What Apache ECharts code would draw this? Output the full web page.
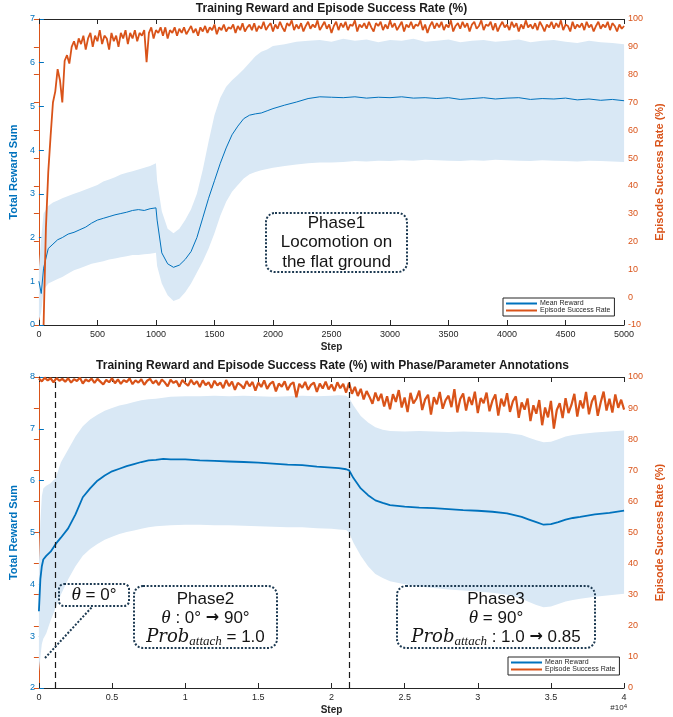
<!DOCTYPE html>
<html><head><meta charset="utf-8">
<script src="https://cdn.jsdelivr.net/npm/echarts@6.0.0/dist/echarts.min.js"></script>
<style>html,body{margin:0;padding:0;background:#fff}#c{width:673px;height:717px}</style>
</head><body><div id="c"></div>
<script>
// ---------- Top chart (Phase 1) ----------
const topSteps = [0,20,40,80,120,160,200,250,300,350,
 400,450,500,550,600,650,700,750,800,850,
 900,950,1000,1010,1050,1100,1150,1200,1250,1300,
 1350,1400,1450,1500,1550,1600,1650,1700,1750,1800,
 1850,1900,1950,2000,2100,2200,2300,2400,2500,2600,
 2700,2800,2900,3000,3100,3200,3300,3400,3500,3600,
 3700,3800,3900,4000,4100,4200,4300,4400,4500,4600,
 4700,4800,4900,5000];
const topMean = [1.0,0.72,1.3,1.75,1.85,1.95,2.0,2.08,2.12,2.18,
 2.24,2.33,2.4,2.44,2.48,2.52,2.55,2.58,2.62,2.64,
 2.62,2.66,2.68,2.4,1.65,1.4,1.32,1.37,1.5,1.68,
 2.0,2.45,2.9,3.3,3.7,4.05,4.35,4.55,4.72,4.8,
 4.83,4.85,4.9,4.95,5.03,5.1,5.18,5.22,5.21,5.2,
 5.22,5.19,5.21,5.2,5.22,5.19,5.2,5.18,5.2,5.16,
 5.18,5.2,5.17,5.19,5.2,5.16,5.18,5.17,5.19,5.15,
 5.17,5.14,5.16,5.13];
const topUpper = [1.3,2.0,2.55,2.72,2.8,2.85,2.9,2.95,3.0,3.05,
 3.1,3.15,3.2,3.28,3.33,3.38,3.44,3.48,3.52,3.56,
 3.6,3.64,3.7,3.3,2.6,2.2,2.1,2.2,2.4,2.65,
 3.0,3.55,4.2,4.8,5.2,5.45,5.6,5.72,5.85,6.0,
 6.15,6.25,6.3,6.38,6.42,6.48,6.5,6.52,6.48,6.55,
 6.5,6.53,6.47,6.52,6.5,6.55,6.48,6.5,6.53,6.47,
 6.5,6.52,6.48,6.5,6.53,6.47,6.5,6.52,6.48,6.45,
 6.5,6.47,6.45,6.42];
const topLower = [0.1,0.3,0.8,0.95,1.0,1.05,1.1,1.18,1.25,1.3,
 1.35,1.4,1.43,1.46,1.5,1.52,1.55,1.57,1.6,1.6,
 1.62,1.63,1.65,1.35,0.95,0.68,0.55,0.6,0.75,0.95,
 1.2,1.45,1.75,2.1,2.5,2.82,3.05,3.2,3.35,3.45,
 3.5,3.54,3.57,3.6,3.64,3.67,3.7,3.72,3.72,3.73,
 3.75,3.74,3.76,3.75,3.77,3.76,3.78,3.77,3.76,3.75,
 3.77,3.76,3.78,3.77,3.76,3.75,3.77,3.76,3.75,3.74,
 3.76,3.75,3.74,3.73];
const topRateStart = 40, topRateStep = 20;
const topRate = [
 -10,25,45,58,70,74,82,78,70,85,
 87,84,90,92,89,93,91,94,89,93,
 95,90,94,92,96,91,94,93,89,95,
 92,94,90,95,93,96,91,95,93,96,
 92,95,94,96,84.5,95,97,93,96,95,
 97,94,97,93,96,95,97,94,96.5,95,
 97,94.5,96,97.5,95,96.5,94,97,95.5,97.5,
 95,97,96,98,94.5,97,96,98,95.5,97,
 96.5,98,95,97.5,96,98.5,95.5,97,98,96,
 98.5,95.5,97.5,96.5,99,96,97.5,98.5,95.5,98,
 96.5,99,97,95.5,98.5,97.5,99.5,96,98,96.5,
 98.5,95.5,97.5,99,96.5,98,97,99.5,96,97.5,
 99,96.5,98,95,97.5,99,96,98.5,97,99,
 96,98,97.5,99.5,95.5,98,97,98.5,96.5,99,
 97,95.5,98.5,97.5,99,96,98,96.5,99.5,97,
 98.5,96,97.5,99,95.5,98,97,99,96.5,98,
 97.5,99.5,96,98,95,97.5,99,96.5,98.5,97,
 99,96,98,97,99.5,95.5,97.5,98.5,96.5,99,
 97,98.5,95.5,98,99,96.5,97.5,99.5,96,98,
 97.5,99,96,98.5,95.5,97.5,99,97,98,96,
 99,97,98.5,95.5,98,96.5,99.5,97,98,96.5,
 98.5,96,99,97.5,95.5,98,97,99,96.5,98.5,
 97,99.5,96,98,97.5,95.5,99,96.5,98,97,
 98.5,96,99,97,98,95.5,97.5,99,96.5,98,
 97,99,96,98.5,97.5,95.5,98,96.5,97.5];

// ---------- Bottom chart (Phase 2 / 3) ----------
const botSteps = [0,100,200,300,500,800,1150,1500,2000,2500,
 3000,3500,4000,4500,5000,5500,6000,6500,7000,7500,
 8000,8500,9000,10000,11000,12000,13000,14000,15000,16000,
 17000,18000,19000,20000,20500,21000,21200,21500,22000,22500,
 23000,23500,24000,25000,26000,27000,28000,29000,30000,31000,
 32000,33000,33500,34000,34500,35000,35500,36000,36500,37000,
 38000,39000,40000];
const botMean = [3.48,4.1,4.35,4.48,4.55,4.63,4.78,4.9,5.08,5.35,
 5.68,5.85,6.0,6.1,6.18,6.23,6.28,6.32,6.36,6.39,
 6.4,6.42,6.41,6.41,6.39,6.38,6.37,6.36,6.35,6.33,
 6.31,6.3,6.27,6.25,6.24,6.22,6.2,6.05,5.85,5.72,
 5.62,5.57,5.53,5.5,5.48,5.47,5.45,5.43,5.42,5.4,
 5.37,5.3,5.25,5.2,5.15,5.16,5.2,5.25,5.28,5.3,
 5.35,5.38,5.42];
const botUpper = [4.4,5.2,5.7,5.85,5.9,5.95,6.05,6.35,6.6,6.85,
 7.05,7.18,7.27,7.35,7.4,7.45,7.48,7.52,7.55,7.57,
 7.58,7.6,7.62,7.63,7.63,7.64,7.63,7.64,7.63,7.62,
 7.63,7.64,7.63,7.64,7.65,7.64,7.6,7.45,7.25,7.12,
 7.03,6.98,6.96,6.95,6.96,6.95,6.94,6.95,6.94,6.93,
 6.92,6.88,6.83,6.78,6.74,6.75,6.8,6.85,6.88,6.9,
 6.93,6.95,6.97];
const botLower = [2.3,2.6,2.85,2.95,3.05,3.3,3.55,3.8,4.1,4.35,
 4.55,4.68,4.78,4.86,4.92,4.97,5.01,5.04,5.07,5.1,
 5.12,5.13,5.14,5.15,5.15,5.14,5.14,5.13,5.12,5.11,
 5.1,5.1,5.08,5.07,5.06,5.05,5.0,4.8,4.55,4.35,
 4.2,4.12,4.06,4.0,3.96,3.93,3.9,3.88,3.86,3.84,
 3.8,3.72,3.66,3.6,3.56,3.57,3.62,3.67,3.7,3.72,
 3.76,3.79,3.82];
const botRateStart = 0, botRateStep = 200;
const botRate = [
 99.5,98.6,99.8,98.9,99.6,98.3,99.7,98.8,99.4,98.5,
 99.6,98.2,99.3,98.7,99.8,97.9,99.2,98.6,99.5,98.1,
 99.4,98.5,97.6,99.1,98.3,99.6,98.0,99.2,97.8,99.0,
 98.4,99.5,97.7,98.9,98.2,99.3,97.5,98.8,99.4,97.9,
 98.9,97.4,99.2,98.3,97.0,99.1,98.1,98.7,96.9,99.0,
 98.0,97.2,99.1,97.6,98.6,96.8,98.9,97.4,98.3,96.5,
 98.8,97.3,98.2,96.4,99.0,97.1,98.5,95.9,98.1,97.4,
 96.3,98.7,97.0,98.4,95.6,98.2,96.8,98.9,96.2,97.8,
 98.5,95.4,97.9,96.9,98.6,95.8,97.6,98.3,93.5,97.8,
 96.5,98.4,95.9,97.5,98.2,95.2,97.9,96.3,98.5,96.0,
 97.6,95.5,98.3,96.4,97.8,95.0,98.1,94.6,96.8,93.9,
 96.2,92.8,95.5,93.6,91.4,95.0,92.3,94.6,90.5,93.8,
 89.6,94.5,92.0,95.8,90.2,93.4,88.7,94.9,91.5,93.0,
 95.6,89.4,92.8,94.3,87.9,93.5,91.2,95.2,89.8,92.6,
 94.0,90.3,96.1,88.6,92.9,94.7,89.2,93.6,91.0,95.3,
 88.4,93.2,91.6,95.0,89.0,92.4,94.4,87.6,93.0,90.6,
 94.8,88.8,92.2,93.8,86.9,91.8,89.5,93.1,85.8,90.9,
 88.2,92.6,84.5,90.2,87.0,92.3,83.4,89.4,91.6,86.8,
 93.2,88.4,91.0,94.6,87.3,92.5,89.9,95.2,88.0,92.1,
 94.1,87.5,91.8,95.3,89.2,93.0,88.6,94.4,90.1,92.7,
 89.5];
const phaseLines = [1150, 21200];

// ---------- styling ----------
const FONT = 'Liberation Sans';
const BLUE = '#0072BD', ORANGE = '#D95319', BAND = '#D9E8F5', AX = '#262626', NAVY = '#1d3a52';

const pairs = (xs, ys) => xs.map((x, i) => [x, ys[i]]);
const seq = (start, step, ys) => ys.map((y, i) => [start + i * step, y]);

function xAxisDef(g, max, interval, pos, fmt) {
  const bottom = pos === 'bottom';
  return {
    type: 'value', gridIndex: g, min: 0, max: max, interval: interval, position: pos,
    axisLine: { show: true, onZero: false, lineStyle: { color: AX, width: 1 } },
    axisTick: { show: true, inside: true, length: 5, lineStyle: { color: AX } },
    axisLabel: { show: bottom, color: AX, fontSize: 9, fontFamily: FONT, margin: 5, formatter: fmt },
    splitLine: { show: false },
    name: bottom ? 'Step' : '', nameLocation: 'middle', nameGap: 17,
    nameTextStyle: { fontWeight: 'bold', fontSize: 10, color: AX, fontFamily: FONT }
  };
}
function yAxisDef(g, pos, min, max, interval, color, name, gap) {
  return {
    type: 'value', gridIndex: g, position: pos, min: min, max: max, interval: interval,
    axisLine: { show: true, lineStyle: { color: color, width: 1 } },
    axisTick: { show: true, inside: true, length: 5, lineStyle: { color: color } },
    axisLabel: { color: color, fontSize: 9, fontFamily: FONT, margin: 4 },
    splitLine: { show: false },
    name: name, nameLocation: 'middle', nameGap: gap,
    nameTextStyle: { fontWeight: 'bold', fontSize: 11, color: color, fontFamily: FONT }
  };
}
// shaded min/max band drawn as one polygon through the axis scales
function bandSeries(xi, yi, xs, hi, lo) {
  return {
    type: 'custom', xAxisIndex: xi, yAxisIndex: yi, silent: true, z: 1,
    data: xs.map((x, i) => [x, hi[i], lo[i]]),
    encode: { x: 0, y: [1, 2] },
    renderItem: function (params, api) {
      if (params.dataIndex !== 0) return null;
      const up = xs.map((x, i) => api.coord([x, hi[i]]));
      const dn = xs.map((x, i) => api.coord([x, lo[i]])).reverse();
      return { type: 'polygon', shape: { points: up.concat(dn) }, style: { fill: BAND, stroke: null } };
    }
  };
}
function legendDef(left, top) {
  return {
    left: left, top: top, orient: 'vertical', selectedMode: false,
    backgroundColor: '#fff', borderColor: AX, borderWidth: 1, padding: [2, 4, 2, 3],
    itemGap: 0, itemWidth: 31, itemHeight: 2, icon: 'rect',
    textStyle: { fontSize: 7, color: AX, fontFamily: FONT, padding: [0, 0, 0, -2] },
    data: [{ name: 'Mean Reward' }, { name: 'Episode Success Rate' }]
  };
}
function tx(x, y, text, rich) {
  return { type: 'text', x: x, y: y, z: 100,
    style: { text: text, fill: '#151515', fontSize: 17, fontFamily: FONT, align: 'center', verticalAlign: 'middle',
      lineHeight: 22, rich: rich } };
}
function box(x, y, w, h, r) {
  return { type: 'rect', z: 99, shape: { x: x, y: y, width: w, height: h, r: r },
    style: { fill: 'none', stroke: NAVY, lineWidth: 2, lineDash: [2, 1.7] } };
}
const RICH = {
  i: { fontFamily: 'Liberation Serif', fontStyle: 'italic', fontSize: 19, lineHeight: 22, fill: '#151515' },
  p: { fontFamily: 'DejaVu Serif', fontStyle: 'italic', fontSize: 18, lineHeight: 22, fill: '#151515' },
  s: { fontFamily: 'Liberation Serif', fontStyle: 'italic', fontSize: 13, lineHeight: 12, verticalAlign: 'bottom', fill: '#151515' },
  a: { fontFamily: 'DejaVu Sans', fontWeight: 'bold', fontSize: 16, lineHeight: 22, fill: '#151515' }
};

const option = {
  animation: false,
  backgroundColor: '#fff',
  textStyle: { fontFamily: FONT },
  title: [
    { text: 'Training Reward and Episode Success Rate (%)', left: 331.5, top: 3, textAlign: 'center', padding: 0,
      textStyle: { fontSize: 12, fontWeight: 'bold', color: '#1a1a1a', fontFamily: FONT } },
    { text: 'Training Reward and Episode Success Rate (%) with Phase/Parameter Annotations', left: 332.5, top: 360, textAlign: 'center', padding: 0,
      textStyle: { fontSize: 12, fontWeight: 'bold', color: '#1a1a1a', fontFamily: FONT } }
  ],
  grid: [
    { left: 38, top: 19, width: 587, height: 306 },
    { left: 38, top: 377, width: 589, height: 311 }
  ],
  xAxis: [
    xAxisDef(0, 5000, 500, 'bottom', v => String(v)),
    xAxisDef(0, 5000, 500, 'top'),
    xAxisDef(1, 40000, 5000, 'bottom', v => String(v / 10000)),
    xAxisDef(1, 40000, 5000, 'top')
  ],
  yAxis: [
    yAxisDef(0, 'left', 0, 7, 1, BLUE, 'Total Reward Sum', 14),
    yAxisDef(0, 'right', -10, 100, 10, ORANGE, 'Episode Success Rate (%)', 21),
    yAxisDef(1, 'left', 2, 8, 1, BLUE, 'Total Reward Sum', 14),
    yAxisDef(1, 'right', 0, 100, 10, ORANGE, 'Episode Success Rate (%)', 21)
  ],
  legend: [legendDef(503, 298), legendDef(508, 657)],
  series: [
    bandSeries(0, 0, topSteps, topUpper, topLower),
    { name: 'Mean Reward', type: 'line', xAxisIndex: 0, yAxisIndex: 0, data: pairs(topSteps, topMean),
      symbol: 'none', color: BLUE, lineStyle: { color: BLUE, width: 1 }, z: 3 },
    { name: 'Episode Success Rate', type: 'line', xAxisIndex: 0, yAxisIndex: 1, data: seq(topRateStart, topRateStep, topRate),
      symbol: 'none', color: ORANGE, lineStyle: { color: ORANGE, width: 1.8 }, z: 4 },
    bandSeries(2, 2, botSteps, botUpper, botLower),
    { name: 'Mean Reward', type: 'line', xAxisIndex: 2, yAxisIndex: 2, data: pairs(botSteps, botMean),
      symbol: 'none', color: BLUE, lineStyle: { color: BLUE, width: 1.8 }, z: 3,
      markLine: { silent: true, symbol: ['none', 'none'], label: { show: false },
        lineStyle: { color: '#1a1a1a', type: [6, 4], width: 1.2 },
        data: phaseLines.map(v => ({ xAxis: v })) } },
    { name: 'Episode Success Rate', type: 'line', xAxisIndex: 2, yAxisIndex: 3, data: seq(botRateStart, botRateStep, botRate),
      symbol: 'none', color: ORANGE, lineStyle: { color: ORANGE, width: 2.2 }, z: 4 }
  ],
  graphic: { elements: [
    box(266, 213, 141, 59, 9),
    tx(336.5, 223, 'Phase1'),
    tx(336.5, 242.5, 'Locomotion on'),
    tx(336.5, 262, 'the flat ground'),
    box(59, 584, 70, 22, 5),
    tx(94, 595, '{i|θ} = 0°', RICH),
    { type: 'line', z: 99, shape: { x1: 45, y1: 658, x2: 92, y2: 607 },
      style: { stroke: NAVY, lineWidth: 2, lineDash: [2, 1.7] } },
    box(134, 586, 143, 62, 9),
    tx(205.5, 599, 'Phase2'),
    tx(205.5, 618, '{i|θ} : 0° {a|→} 90°', RICH),
    tx(205.5, 637, '{p|Prob}{s|attach} = 1.0', RICH),
    box(397, 586, 198, 62, 9),
    tx(496, 599, 'Phase3'),
    tx(496, 618, '{i|θ} = 90°', RICH),
    tx(496, 637, '{p|Prob}{s|attach} : 1.0 {a|→} 0.85', RICH),
    { type: 'text', x: 627, y: 708, z: 100,
      style: { text: '#10{u|4}', fill: AX, fontSize: 8, fontFamily: FONT, align: 'right', verticalAlign: 'middle', lineHeight: 10,
        rich: { u: { fontSize: 6, verticalAlign: 'top', lineHeight: 10, fill: AX, fontFamily: FONT } } } }
  ] }
};
const chart = echarts.init(document.getElementById('c'), null, { renderer: 'canvas' });
chart.setOption(option);
</script>
</body></html>
